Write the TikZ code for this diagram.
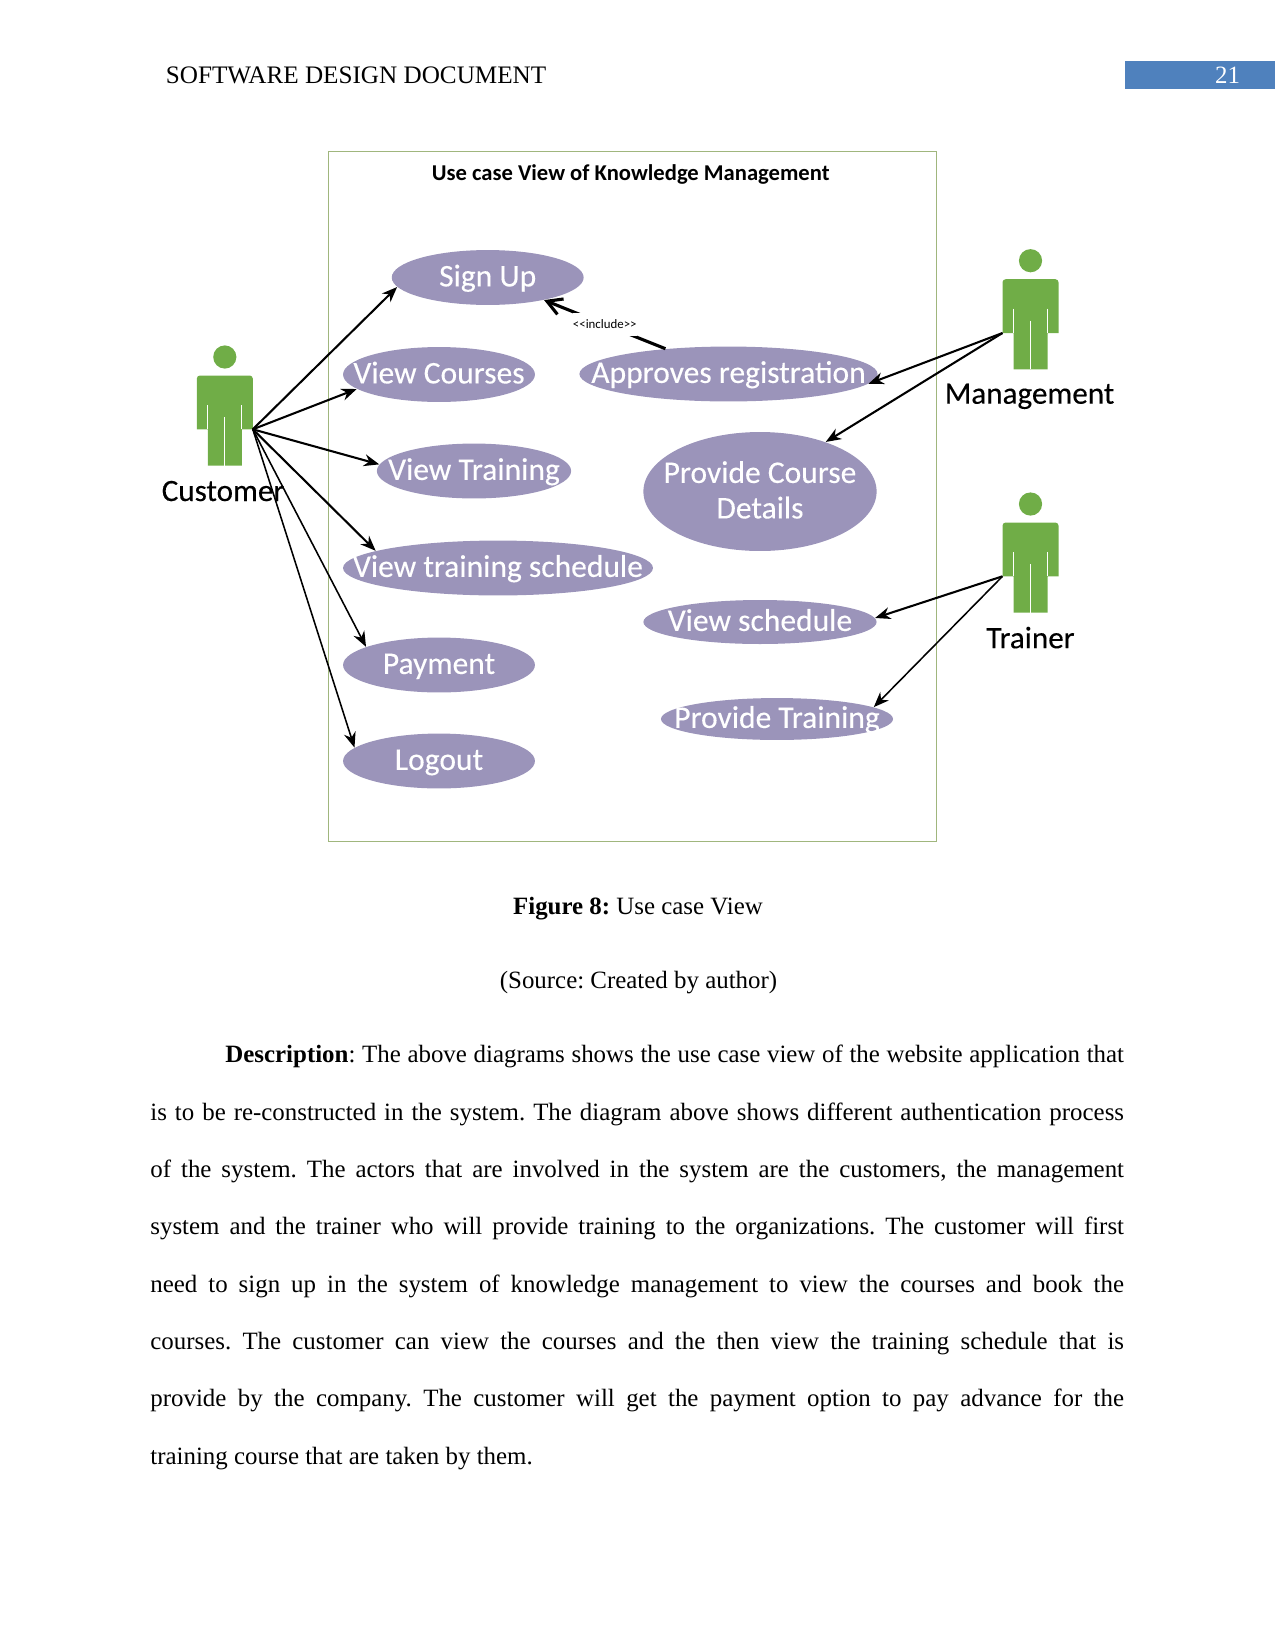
\documentclass[tikz,border=0pt]{standalone}
\usepackage{fontspec}
\setmainfont{Liberation Serif}
\newfontfamily\umlfont[FakeBold=0.25]{Carlito}
\newfontfamily\titlefont{Carlito}
\usepackage{xcolor}
\definecolor{Case-fill}{RGB}{155, 148, 186}
\definecolor{Actor-fill}{RGB}{112, 173, 71}
\definecolor{Frame-line}{RGB}{160, 182, 125}
\definecolor{Page-blue}{RGB}{79, 129, 189}
\usetikzlibrary{shapes.geometric,arrows.meta}

% one stick figure: head x, head y, name of the hand, side of the hand
\newcommand{\actorfig}[4]{
    \begin{scope}[shift={(#1,#2)}]
        \fill [Actor-fill] (0,0) circle [radius=11.6];
        \fill [Actor-fill] (-17,108.7) -- (-17,72.3) -- (-28,72.3) [rounded corners=1.5pt] -- (-28,18.5)
            -- (28,18.5) [sharp corners] -- (28,72.3) -- (17,72.3) -- (17,108.7) -- cycle;
        \draw [white, line width=0.45pt] (-17,48) -- (-17,72.3) (17,48) -- (17,72.3) (0,60) -- (0,108.7);
        \coordinate (#3) at (#4*28,72.3);
    \end{scope}
}

\begin{document}
\frenchspacing
\begin{tikzpicture} [ % styles of each kind of thing
            x=0.016933cm, y=-0.016933cm,
            >={Stealth[length=7.4pt,width=5.8pt]},
            usecase/.style = {ellipse, fill=Case-fill, inner sep=0pt, minimum width=3.25cm, minimum height=0.93cm},
            uselabel/.style = {text=white, font=\umlfont\fontsize{15.2}{17.1}\selectfont, align=center, inner sep=0pt},
            oneline/.style = {uselabel, text height=11.7pt, text depth=3.1pt},
            name-text/.style = {anchor=base, inner sep=0pt, font=\umlfont\fontsize{15}{17}\selectfont},
            page-text/.style = {anchor=base, inner sep=0pt, font=\fontsize{12}{14}\selectfont},
            flow/.style = {->, line width=1pt},
            flow-thin/.style = {->, line width=0.75pt}
        ]

        \useasboundingbox (0,0) rectangle (1275,1650);

        % page header
        \node [page-text, anchor=base west, font=\fontsize{12.13}{14}\selectfont] (head) at (165.5,83.5) {SOFTWARE DESIGN DOCUMENT};
        \node [fill=Page-blue, inner sep=0pt, minimum width=2.54cm, minimum height=0.49cm] (pagebar) at (1200,75) {};
        \node [page-text, text=white] (pageno) at (1227.6,83.5) {21};

        % frame and title
        \node [draw=Frame-line, line width=0.5pt, inner sep=0pt, minimum width=10.31cm, minimum height=11.68cm] (frame) at (632.5,496.5) {};
        \node [anchor=base, inner sep=0pt, font=\titlefont\bfseries\fontsize{10.9}{12}\selectfont] (title) at (630.7,180) {Use case View of Knowledge Management};

        % left column
        \node [usecase, label={[oneline]center:Sign Up}] (ucsign) at (487.7,277.5) {};
        \node [usecase, label={[oneline]center:View Courses}] (uccourses) at (439,374.5) {};
        \node [usecase, minimum width=3.29cm, label={[oneline]center:View Training}] (uctraining) at (474,471) {};
        \node [usecase, minimum width=5.25cm, label={[oneline]center:View training schedule}] (ucplan) at (498,568) {};
        \node [usecase, label={[oneline]center:Payment}] (ucpay) at (439,665) {};
        \node [usecase, label={[oneline]center:Logout}] (uclogout) at (439,761) {};

        % right column
        \node [usecase, minimum width=5.05cm, label={[oneline]center:Approves registration}] (ucapprove) at (728.5,374) {};
        \node [usecase, minimum width=3.95cm, minimum height=2.015cm, label={[uselabel, yshift=0.8pt]center:Provide Course\\Details}] (ucdetails) at (760,491.5) {};
        \node [usecase, minimum width=3.95cm, minimum height=0.745cm, label={[oneline]center:View schedule}] (ucschedule) at (760,622) {};
        \node [usecase, minimum width=3.93cm, minimum height=0.71cm, label={[oneline]center:Provide Training}] (ucprovide) at (777,719) {};

        % actors
        \actorfig{224.8}{357}{customer}{1}
        \actorfig{1030.5}{260.7}{management}{-1}
        \actorfig{1030.5}{504}{trainer}{-1}
        \node [name-text] (customerlabel) at (223,501) {Customer};
        \node [name-text] (managementlabel) at (1029.5,403.7) {Management};
        \node [name-text] (trainerlabel) at (1030.5,648.2) {Trainer};

        % connectors
        \draw [flow] (customer) -- (ucsign.186);
        \draw [flow] (customer) -- (uccourses.190);
        \draw [flow] (customer) -- (uctraining.176.4);
        \draw [flow] (customer) -- (ucplan.172.5);
        \draw [flow-thin] (customer) -- (ucpay.166);
        \draw [flow-thin] (customer) -- (uclogout.171);

        \draw [flow] (management) -- (ucapprove.-4.8);
        \draw [flow] (management) -- (ucdetails.37);
        \draw [flow] (trainer) -- (ucschedule.2);
        \draw [flow-thin] (trainer) -- (ucprovide.7);

        \draw [-{Straight Barb[length=7pt,width=8pt]}, line width=1.5pt] (ucapprove) -- node [fill=white, inner xsep=0pt, inner ysep=3.3pt, font=\titlefont\fontsize{6.2}{7}\selectfont] (include) {{<}{<}include{>}{>}} (ucsign);

        % text under the figure
        \node [page-text] (caption) at (638,914) {\textbf{Figure 8:} Use case View};
        \node [page-text] (source) at (638.5,988.3) {(Source: Created by author)};
        \node [anchor=north west, inner sep=0pt, text width=16.49cm, align=justify, font=\fontsize{12}{27.65}\selectfont] (body) at (150,1044.7) {\hspace*{0.5in}\textbf{Description}: The above diagrams shows the use case view of the website application that\linebreak
            is to be re-constructed in the system. The diagram above shows different authentication process\linebreak
            of the system. The actors that are involved in the system are the customers, the management\linebreak
            system and the trainer who will provide training to the organizations. The customer will first\linebreak
            need to sign up in the system of knowledge management to view the courses and book the\linebreak
            courses. The customer can view the courses and the then view the training schedule that is\linebreak
            provide by the company. The customer will get the payment option to pay advance for the\linebreak
            training course that are taken by them.};

    \end{tikzpicture}
\end{document}
